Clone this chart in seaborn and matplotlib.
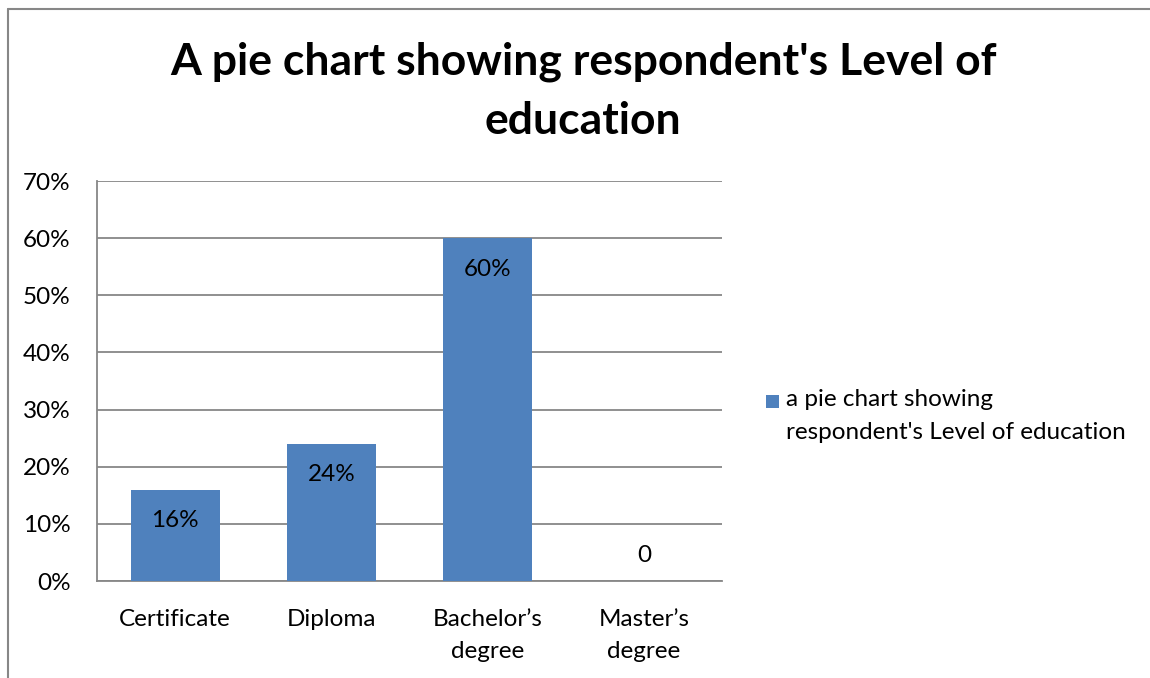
import pandas as pd
import matplotlib.pyplot as plt
import seaborn as sns
from matplotlib.lines import Line2D
from matplotlib.patches import Patch, Rectangle
from matplotlib.legend_handler import HandlerPatch

# chart data
categories = ['Certificate', 'Diploma', 'Bachelor\u2019s\ndegree', 'Master\u2019s\ndegree']
shares = [16, 24, 60, 0]
value_labels = ['16%', '24%', '60%', '0']
y_ticks = [0, 10, 20, 30, 40, 50, 60, 70]
series_name = "a pie chart showing\nrespondent's Level of education"
title = "A pie chart showing respondent's Level of\neducation"

sns.set_style('white')
plt.rcParams['font.family'] = ['Lato', 'DejaVu Sans']
plt.rcParams['text.color'] = 'black'

bar_color = '#4F81BD'
grid_color = '#878787'
fs = 17.5

df = pd.DataFrame({'category': categories, 'share': shares})

fig = plt.figure(figsize=(11.5, 6.78), dpi=100)
ax = fig.add_axes([97 / 1150, 1 - 581 / 678, 625 / 1150, 400 / 678])

sns.barplot(data=df, x='category', y='share', color=bar_color, width=0.57,
            saturation=1, linewidth=0, edgecolor='none', ax=ax, zorder=3)

ax.set_ylim(0, 70)
ax.set_yticks(y_ticks)
ax.set_yticklabels([f'{t}%' for t in y_ticks])
ax.set_xlim(-0.5, len(categories) - 0.5)
ax.set_xticks(range(len(categories)))
ax.set_xticklabels(categories, linespacing=1.6)
ax.yaxis.grid(True, color=grid_color, linewidth=1.3, zorder=0)
ax.set_axisbelow(True)
for side in ['top', 'right']:
    ax.spines[side].set_visible(False)
for side in ['left', 'bottom']:
    ax.spines[side].set_color(grid_color)
    ax.spines[side].set_linewidth(1.3)
ax.tick_params(axis='both', length=0, labelsize=fs, colors='black')
ax.tick_params(axis='y', pad=19)
ax.tick_params(axis='x', pad=20.5)
ax.set_xlabel('')
ax.set_ylabel('')

# data labels (inside end, zero above the axis)
for i, (v, lab) in enumerate(zip(shares, value_labels)):
    off = -31 if v > 0 else 26
    ax.annotate(lab, xy=(i, v), xytext=(0, off), textcoords='offset pixels',
                ha='center', va='center', fontsize=fs, color='black')

# title
fig.text(583 / 1150, 1 - 91 / 678, title, ha='center', va='center',
         fontsize=32, fontweight='bold', linespacing=1.57, color='black')


# legend key: small square next to the first line only
def top_square(legend, orig_handle, xdescent, ydescent, width, height, fontsize):
    size = 0.52 * fontsize
    return Rectangle((-xdescent + width - size, -ydescent + height - size * 1.05),
                     size, size)


handle = Patch(facecolor=bar_color, edgecolor='none')
leg = fig.legend([handle], [series_name], loc='upper left',
                 bbox_to_anchor=(762 / 1150, 1 - 389 / 678), frameon=False,
                 fontsize=fs, handlelength=0.7, handleheight=2.5,
                 handletextpad=0.3, borderpad=0, borderaxespad=0,
                 handler_map={Patch: HandlerPatch(patch_func=top_square)})
for t in leg.get_texts():
    t.set_linespacing(1.7)

# outer frame (top and left edges only)
fig.add_artist(Line2D([8 / 1150, 1], [1 - 9 / 678, 1 - 9 / 678],
                      transform=fig.transFigure, color=grid_color, linewidth=1.5))
fig.add_artist(Line2D([8 / 1150, 8 / 1150], [0, 1 - 9 / 678],
                      transform=fig.transFigure, color=grid_color, linewidth=1.5))

fig.savefig('out.png', dpi=100)
plt.close(fig)
